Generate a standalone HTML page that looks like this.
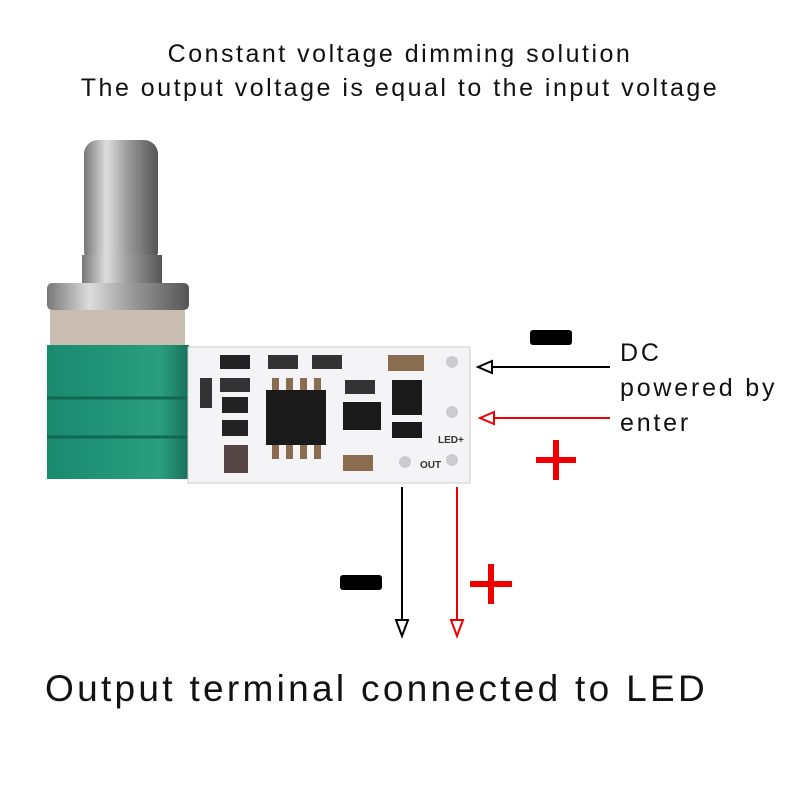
<!DOCTYPE html>
<html><head><style>
body{margin:0;width:800px;height:800px;background:#fff;position:relative;overflow:hidden;font-family:"Liberation Sans","DejaVu Sans",sans-serif}
.t{position:absolute;white-space:nowrap;color:#111}
</style></head><body>
<div class="t" style="left:0;width:800px;text-align:center;top:37px;font-size:25px;line-height:34px;letter-spacing:2.5px">Constant voltage dimming solution<br>The output voltage is equal to the input voltage</div>
<svg width="800" height="800" style="position:absolute;left:0;top:0">
<defs>
<linearGradient id="sh" x1="0" x2="1"><stop offset="0" stop-color="#777"/><stop offset=".3" stop-color="#ddd"/><stop offset=".6" stop-color="#999"/><stop offset="1" stop-color="#555"/></linearGradient>
<linearGradient id="gr" x1="0" x2="1"><stop offset="0" stop-color="#1a8a6e"/><stop offset=".8" stop-color="#2a9e7f"/><stop offset="1" stop-color="#17705a"/></linearGradient>
</defs>
<rect x="84" y="140" width="74" height="125" rx="14" fill="url(#sh)"/>
<rect x="82" y="255" width="80" height="30" fill="url(#sh)"/>
<rect x="47" y="283" width="142" height="27" rx="5" fill="url(#sh)"/>
<rect x="50" y="310" width="135" height="37" fill="#c9bcb0"/>
<rect x="47" y="345" width="142" height="134" fill="url(#gr)"/>
<line x1="47" y1="398" x2="189" y2="398" stroke="#136650" stroke-width="3"/>
<line x1="47" y1="437" x2="189" y2="437" stroke="#136650" stroke-width="3"/>
<rect x="188" y="347" width="282" height="136" fill="#f4f4f6" stroke="#ccc"/>
<rect x="220" y="355" width="30" height="14" fill="#222"/>
<rect x="268" y="355" width="30" height="14" fill="#333"/>
<rect x="312" y="355" width="30" height="14" fill="#333"/>
<rect x="220" y="378" width="30" height="14" fill="#333"/>
<rect x="200" y="378" width="12" height="30" fill="#333"/>
<rect x="222" y="397" width="26" height="16" fill="#222"/>
<rect x="222" y="420" width="26" height="16" fill="#222"/>
<rect x="224" y="445" width="24" height="28" fill="#544"/>
<rect x="266" y="390" width="60" height="55" fill="#1a1a1a"/>
<g fill="#8a6d50"><rect x="272" y="378" width="7" height="12"/><rect x="286" y="378" width="7" height="12"/><rect x="300" y="378" width="7" height="12"/><rect x="314" y="378" width="7" height="12"/><rect x="272" y="445" width="7" height="14"/><rect x="286" y="445" width="7" height="14"/><rect x="300" y="445" width="7" height="14"/><rect x="314" y="445" width="7" height="14"/></g>
<rect x="343" y="402" width="38" height="28" fill="#1a1a1a"/>
<rect x="345" y="380" width="30" height="14" fill="#333"/>
<rect x="388" y="355" width="36" height="16" fill="#8a6d50"/>
<rect x="392" y="380" width="30" height="35" fill="#1a1a1a"/>
<rect x="392" y="422" width="30" height="16" fill="#1a1a1a"/>
<rect x="343" y="455" width="30" height="16" fill="#8a6d50"/>
<circle cx="452" cy="362" r="6" fill="#ccc"/><circle cx="452" cy="412" r="6" fill="#ccc"/><circle cx="452" cy="460" r="6" fill="#ccc"/><circle cx="405" cy="462" r="6" fill="#ccc"/>
<text x="420" y="468" font-size="10" font-weight="bold" fill="#333">OUT</text>
<text x="438" y="443" font-size="10" font-weight="bold" fill="#333">LED+</text>
<line x1="610" y1="367" x2="484" y2="367" stroke="#000" stroke-width="2"/>
<path d="M478 367 L492 361 L492 373 Z" fill="#fff" stroke="#000" stroke-width="2"/>
<line x1="610" y1="418" x2="486" y2="418" stroke="#e00" stroke-width="2"/>
<path d="M480 418 L494 412 L494 424 Z" fill="#fff" stroke="#e00" stroke-width="2"/>
<line x1="402" y1="487" x2="402" y2="625" stroke="#000" stroke-width="2"/>
<path d="M402 636 L396 620 L408 620 Z" fill="#fff" stroke="#000" stroke-width="2"/>
<line x1="457" y1="487" x2="457" y2="625" stroke="#e00" stroke-width="2"/>
<path d="M457 636 L451 620 L463 620 Z" fill="#fff" stroke="#e00" stroke-width="2"/>
<rect x="530" y="330" width="42" height="15" rx="3" fill="#000"/>
<rect x="340" y="575" width="42" height="15" rx="3" fill="#000"/>
<path d="M536 460 H576 M556 440 V480" stroke="#e00" stroke-width="6"/>
<path d="M470 584 H512 M491 564 V604" stroke="#e00" stroke-width="6"/>
</svg>
<div class="t" style="left:620px;top:336px;font-size:25px;line-height:35px;letter-spacing:2.8px">DC<br>powered by<br>enter</div>
<div class="t" style="left:45px;top:668px;font-size:37px;letter-spacing:3.3px">Output terminal connected to LED</div>
</body></html>
